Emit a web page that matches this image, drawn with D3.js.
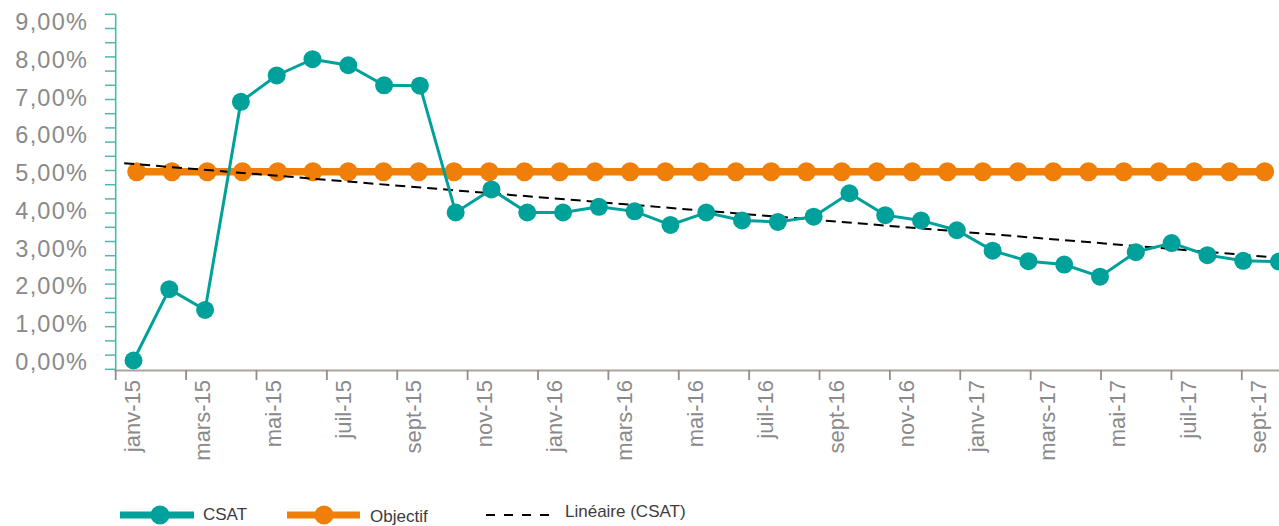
<!DOCTYPE html>
<html>
<head>
<meta charset="utf-8">
<script src="https://cdn.jsdelivr.net/npm/d3@7"></script>
<style>
  body { margin: 0; background: #ffffff; }
  svg { display: block; }
  text { font-family: "Liberation Sans", Arial, Helvetica, sans-serif; }
</style>
</head>
<body>
<svg id="chart" width="1279" height="526"></svg>
<script>
// Monthly categories (French short month names)
const categories = [
  "janv-15","févr-15","mars-15","avr-15","mai-15","juin-15","juil-15","août-15","sept-15","oct-15","nov-15","déc-15",
  "janv-16","févr-16","mars-16","avr-16","mai-16","juin-16","juil-16","août-16","sept-16","oct-16","nov-16","déc-16",
  "janv-17","févr-17","mars-17","avr-17","mai-17","juin-17","juil-17","août-17","sept-17"
];

// CSAT rate per month (%)
const csat = [
  0.00, 1.89, 1.34, 6.85, 7.55, 7.98, 7.82, 7.29, 7.28, 3.92, 4.53, 3.92,
  3.92, 4.07, 3.95, 3.59, 3.92, 3.71, 3.67, 3.81, 4.43, 3.85, 3.71, 3.45,
  2.91, 2.63, 2.54, 2.22, 2.87, 3.11, 2.79, 2.64, 2.62
];

// Target (%)
const objectif = [
  5, 5, 5, 5, 5, 5, 5, 5, 5, 5, 5, 5,
  5, 5, 5, 5, 5, 5, 5, 5, 5, 5, 5, 5,
  5, 5, 5, 5, 5, 5, 5, 5, 5
];

// Y tick values (%)
const yTicks = [0, 1, 2, 3, 4, 5, 6, 7, 8, 9];

// Legend entries
const legendLabels = ["CSAT", "Objectif", "Linéaire (CSAT)"];

const TEAL = "#00a19a";
const TEAL_AXIS = "#4cb9af";
const ORANGE = "#f07f0a";
const GREY_TEXT = "#8a8a8a";

const svg = d3.select("#chart");

// Scales
const x = d3.scaleBand().domain(categories).range([115.7, 1277]).padding(0);
const xObj = d3.scalePoint().domain(categories).range([136.7, 1264.7]);
const xCsat = d3.scalePoint().domain(categories).range([133.5, 1279]);
const y = d3.scaleLinear().domain([0, 9]).range([360.5, 20.7]);
const yMinor = d3.scaleLinear().domain([0, 25]).range([369.3, 14.3]);

const fr = d3.formatLocale({ decimal: ",", thousands: " ", grouping: [3], currency: ["", " €"] });
const fmt = v => fr.format(".2f")(v) + "%";

// ---- Y axis (teal) ----
const yAxisG = svg.append("g");
yAxisG.append("line")
  .attr("x1", 115.7).attr("x2", 115.7)
  .attr("y1", yMinor(25)).attr("y2", 370.5)
  .attr("stroke", TEAL_AXIS).attr("stroke-width", 1.6);
yAxisG.selectAll("line.minor")
  .data(d3.range(26))
  .join("line")
  .attr("class", "minor")
  .attr("x1", 105).attr("x2", 115.7)
  .attr("y1", d => yMinor(d)).attr("y2", d => yMinor(d))
  .attr("stroke", TEAL_AXIS).attr("stroke-width", 1.5);
yAxisG.selectAll("text")
  .data(yTicks)
  .join("text")
  .attr("x", 88)
  .attr("y", d => y(d) + 1.5)
  .attr("text-anchor", "end")
  .attr("dominant-baseline", "central")
  .attr("font-size", 23.5)
  .attr("letter-spacing", 1.2)
  .attr("fill", GREY_TEXT)
  .text(fmt);

// ---- X axis (grey) ----
const xAxisG = svg.append("g");
xAxisG.append("line")
  .attr("x1", 114.5).attr("x2", 1279)
  .attr("y1", 370.5).attr("y2", 370.5)
  .attr("stroke", "#aaa49f").attr("stroke-width", 2);
const tickCats = categories.filter((c, i) => i % 2 === 0);
xAxisG.selectAll("line.tick")
  .data(tickCats)
  .join("line")
  .attr("class", "tick")
  .attr("x1", d => x(d)).attr("x2", d => x(d))
  .attr("y1", 370).attr("y2", 380)
  .attr("stroke", "#8e8e8e").attr("stroke-width", 1.8);
xAxisG.selectAll("text")
  .data(tickCats)
  .join("text")
  .attr("transform", d => `translate(${x(d) + x.bandwidth() / 2 - 1},380) rotate(-90)`)
  .attr("text-anchor", "end")
  .attr("dominant-baseline", "central")
  .attr("font-size", 22)
  .attr("fill", GREY_TEXT)
  .text(d => d);

// ---- Objectif series ----
const lineObj = d3.line()
  .x((d, i) => xObj(categories[i]))
  .y(d => y(d));
svg.append("path")
  .datum(objectif)
  .attr("d", lineObj)
  .attr("fill", "none")
  .attr("stroke", ORANGE)
  .attr("stroke-width", 7.5);
svg.append("g").selectAll("circle")
  .data(objectif)
  .join("circle")
  .attr("cx", (d, i) => xObj(categories[i]))
  .attr("cy", d => y(d))
  .attr("r", 9.5)
  .attr("fill", ORANGE);

// ---- Linear trend of CSAT (least squares) ----
const idx = csat.map((d, i) => i);
const meanI = d3.mean(idx);
const meanV = d3.mean(csat);
const slope = d3.sum(idx, i => (i - meanI) * (csat[i] - meanV)) / d3.sum(idx, i => (i - meanI) ** 2);
const intercept = meanV - slope * meanI;
const step = xCsat.step();
const trendStart = -0.26, trendEnd = csat.length - 1;
svg.append("line")
  .attr("x1", xCsat(categories[0]) + trendStart * step)
  .attr("y1", y(intercept + slope * trendStart))
  .attr("x2", xCsat(categories[0]) + trendEnd * step)
  .attr("y2", y(intercept + slope * trendEnd))
  .attr("stroke", "#000")
  .attr("stroke-width", 2)
  .attr("stroke-dasharray", "10,6");

// ---- CSAT series ----
const lineCsat = d3.line()
  .x((d, i) => xCsat(categories[i]))
  .y(d => y(d));
svg.append("path")
  .datum(csat)
  .attr("d", lineCsat)
  .attr("fill", "none")
  .attr("stroke", TEAL)
  .attr("stroke-width", 3);
svg.append("g").selectAll("circle")
  .data(csat)
  .join("circle")
  .attr("cx", (d, i) => xCsat(categories[i]))
  .attr("cy", d => y(d))
  .attr("r", 9)
  .attr("fill", TEAL);

// ---- Legend ----
const lg = svg.append("g");
const ly = 515;
// CSAT
lg.append("line").attr("x1", 120).attr("x2", 194).attr("y1", ly).attr("y2", ly)
  .attr("stroke", TEAL).attr("stroke-width", 7);
lg.append("circle").attr("cx", 160).attr("cy", ly).attr("r", 9.5).attr("fill", TEAL);
// Objectif
lg.append("line").attr("x1", 287).attr("x2", 360).attr("y1", ly).attr("y2", ly)
  .attr("stroke", ORANGE).attr("stroke-width", 7);
lg.append("circle").attr("cx", 324).attr("cy", ly).attr("r", 9.5).attr("fill", ORANGE);
// Trend
lg.append("line").attr("x1", 486).attr("x2", 550).attr("y1", ly).attr("y2", ly)
  .attr("stroke", "#000").attr("stroke-width", 2).attr("stroke-dasharray", "9,9");

lg.selectAll("text")
  .data(legendLabels)
  .join("text")
  .attr("x", (d, i) => [203, 370, 565][i])
  .attr("y", (d, i) => [514, 516, 511][i])
  .attr("dominant-baseline", "central")
  .attr("font-size", 17)
  .attr("fill", "#3c3c3c")
  .text(d => d);
</script>
</body>
</html>
